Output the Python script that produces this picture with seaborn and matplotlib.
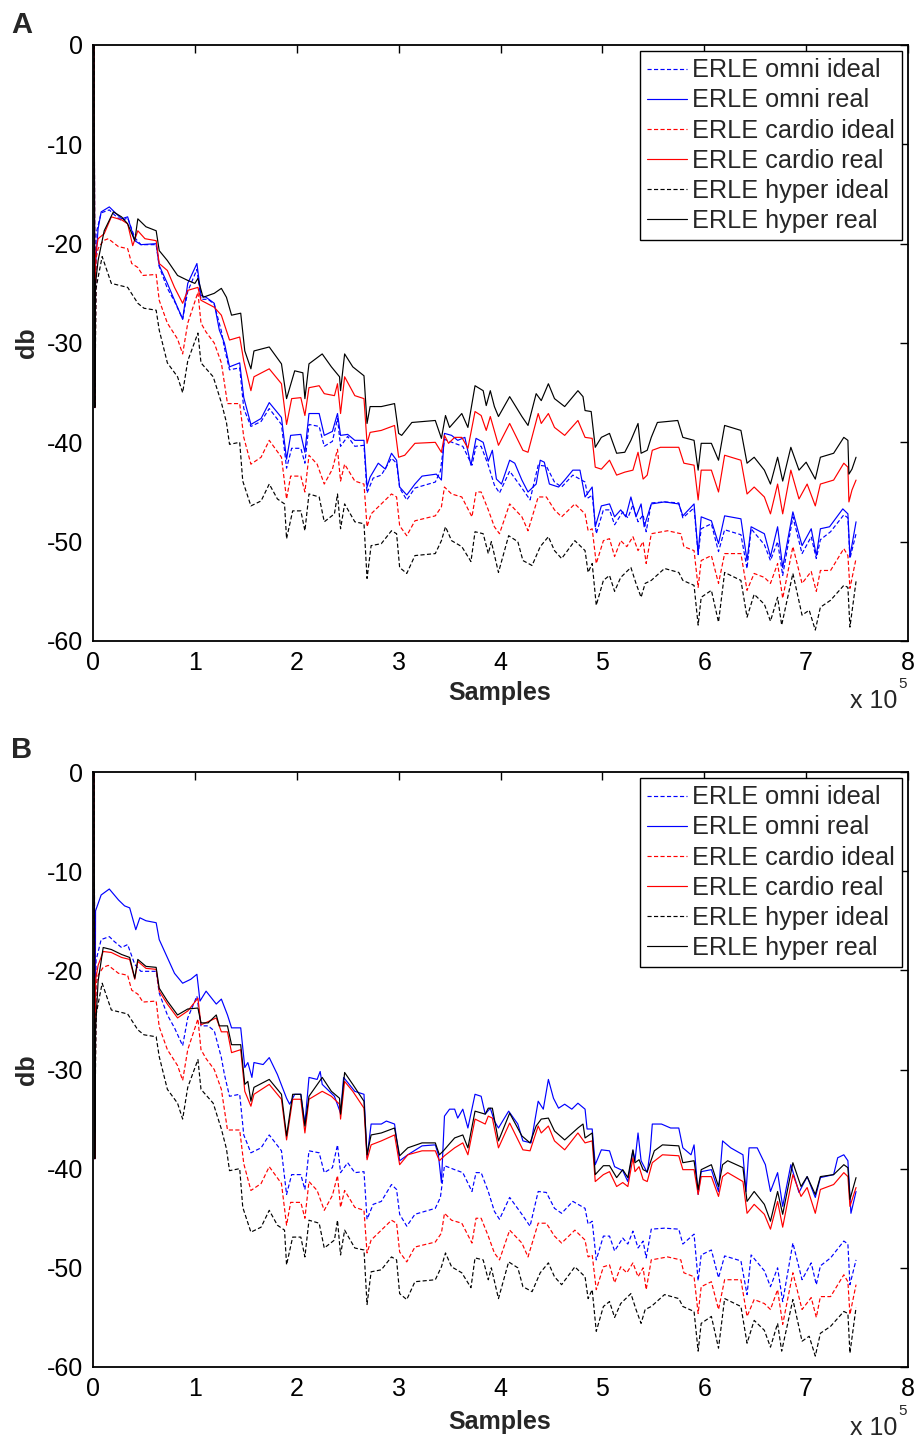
import numpy as np
import pandas as pd
import matplotlib
matplotlib.use("Agg")
import matplotlib.pyplot as plt
import seaborn as sns

# ---------------- data (x in units of 1e5 samples, value in db) ----------------
omni_ideal = [(0.012,0),(0.018,-36.5),(0.03,-19),(0.08,-16.9),(0.16,-16.6),(0.21,-17.1),(0.28,-17.7),(0.34,-17.4),(0.41,-19.4),(0.47,-20.1),(0.62,-20.1),(0.65,-22.3),(0.73,-24.5),(0.8,-25.8),(0.88,-27.6),(0.93,-24.8),(1.02,-22.6),(1.06,-25.6),(1.13,-25.6),(1.19,-26.1),(1.26,-28.8),(1.29,-30.5),(1.34,-32.7),(1.44,-32.5),(1.48,-36.6),(1.55,-38.4),(1.65,-37.9),(1.73,-36.6),(1.85,-38.2),(1.9,-42.6),(1.95,-40.6),(2.04,-40.6),(2.08,-42.1),(2.12,-38.2),(2.22,-38.4),(2.27,-40.4),(2.35,-39.9),(2.4,-37.6),(2.43,-40.4),(2.5,-39.4),(2.57,-40.4),(2.66,-40.3),(2.69,-45.1),(2.75,-43.6),(2.83,-43.3),(2.93,-41.6),(2.98,-42.1),(3.01,-44.6),(3.08,-45.8),(3.16,-44.6),(3.36,-44),(3.41,-42.9),(3.45,-39.7),(3.55,-40.1),(3.63,-40.4),(3.72,-42.3),(3.76,-40.4),(3.81,-40.4),(3.88,-42.3),(3.94,-44.3),(3.99,-45.1),(4.09,-42.9),(4.21,-44.6),(4.29,-45.8),(4.37,-42.3),(4.45,-42.4),(4.53,-44),(4.6,-44.5),(4.71,-43.3),(4.83,-44),(4.86,-45.6),(4.9,-45.3),(4.94,-49.2),(5.01,-46.8),(5.07,-46.8),(5.12,-48.3),(5.2,-47),(5.25,-47.6),(5.3,-46.3),(5.35,-48),(5.4,-47.3),(5.43,-49),(5.48,-46.1),(5.61,-46),(5.75,-46.1),(5.79,-47.6),(5.9,-46.6),(5.94,-51.3),(5.97,-48.7),(6.07,-48.2),(6.14,-51),(6.2,-48.8),(6.36,-49.3),(6.42,-52.7),(6.46,-48.7),(6.59,-50.3),(6.65,-51.9),(6.72,-50),(6.77,-53.4),(6.87,-47.5),(6.96,-51.2),(7.05,-49.5),(7.1,-51.7),(7.14,-49.8),(7.24,-49),(7.37,-47.3),(7.41,-47.6),(7.43,-51.7),(7.49,-49.2)]

cardio_ideal = [(0.012,0),(0.018,-36.5),(0.03,-21.5),(0.05,-20.5),(0.1,-19.7),(0.15,-19.5),(0.25,-20.3),(0.34,-20.5),(0.38,-22),(0.44,-22.4),(0.49,-23.2),(0.62,-23.1),(0.65,-25.7),(0.73,-28),(0.83,-29.6),(0.88,-31.1),(0.93,-28),(1.03,-24.9),(1.06,-28),(1.11,-28.9),(1.19,-30),(1.26,-32),(1.32,-36.1),(1.44,-36.1),(1.48,-39.5),(1.55,-42.2),(1.65,-41.5),(1.73,-39.8),(1.85,-41.5),(1.9,-45.7),(1.94,-43.4),(2.04,-43.4),(2.08,-45),(2.12,-41.3),(2.2,-42.2),(2.27,-44.2),(2.35,-42.7),(2.4,-40.7),(2.43,-43.9),(2.47,-42.2),(2.57,-43.9),(2.66,-44.2),(2.69,-48.5),(2.73,-47.2),(2.83,-46.2),(2.93,-45.2),(2.98,-45.5),(3.01,-48.4),(3.08,-49.4),(3.16,-47.9),(3.36,-47.4),(3.42,-46.5),(3.45,-44.5),(3.52,-45.2),(3.62,-45.5),(3.72,-47.5),(3.76,-45),(3.81,-45),(3.88,-46.8),(3.94,-48.5),(3.99,-49.2),(4.09,-46.2),(4.21,-47.5),(4.27,-48.9),(4.37,-45.5),(4.45,-45.5),(4.53,-46.8),(4.6,-47.5),(4.73,-46.2),(4.83,-47.2),(4.86,-48.9),(4.9,-48.7),(4.94,-52.2),(5.01,-49.9),(5.07,-49.7),(5.12,-51.5),(5.18,-49.9),(5.24,-50.5),(5.3,-49.5),(5.35,-50.9),(5.4,-50),(5.43,-52.2),(5.48,-49.2),(5.64,-48.9),(5.77,-49.2),(5.8,-50.5),(5.9,-50.9),(5.94,-54.6),(5.97,-51.9),(6.07,-51.4),(6.14,-54.2),(6.2,-51.2),(6.36,-51.2),(6.42,-54.9),(6.49,-53.2),(6.59,-53.6),(6.65,-54.2),(6.72,-52.2),(6.77,-55.7),(6.87,-50.5),(6.96,-54.2),(7.05,-53),(7.1,-55),(7.14,-52.9),(7.24,-52.9),(7.37,-50.7),(7.41,-51.4),(7.43,-54.7),(7.49,-51.7)]

hyper_ideal = [(0.012,0),(0.018,-36.5),(0.03,-24.5),(0.05,-23.4),(0.09,-21.3),(0.18,-24),(0.34,-24.4),(0.44,-26),(0.5,-26.5),(0.62,-26.7),(0.65,-28.7),(0.73,-32),(0.83,-33.4),(0.88,-35),(0.93,-31.8),(1.03,-29),(1.06,-32),(1.18,-33.4),(1.26,-36),(1.31,-38),(1.34,-40.2),(1.44,-40),(1.47,-43.9),(1.55,-46.4),(1.65,-45.9),(1.73,-44.2),(1.81,-45.7),(1.88,-46.2),(1.9,-49.7),(1.96,-46.9),(2.04,-46.9),(2.08,-48.9),(2.12,-45.2),(2.22,-45.5),(2.27,-48),(2.37,-47.2),(2.4,-45.2),(2.43,-48.7),(2.47,-46.2),(2.57,-48),(2.66,-48.2),(2.69,-53.7),(2.73,-50.4),(2.83,-50.2),(2.93,-48.9),(2.98,-49.2),(3.01,-52.6),(3.08,-53.2),(3.16,-51.4),(3.36,-51.2),(3.42,-49.9),(3.46,-48.5),(3.52,-49.9),(3.62,-50.5),(3.71,-52),(3.75,-49),(3.83,-49.2),(3.88,-51.2),(3.91,-50),(3.98,-53.1),(4.08,-49.4),(4.17,-50),(4.22,-51.9),(4.31,-52.4),(4.39,-50.5),(4.47,-49.5),(4.53,-50.9),(4.6,-51.7),(4.73,-49.9),(4.83,-50.9),(4.86,-53.1),(4.9,-52.2),(4.94,-56.4),(5.01,-53.9),(5.07,-53.4),(5.12,-55),(5.18,-53.6),(5.28,-52.6),(5.33,-54.2),(5.38,-55.6),(5.42,-54.2),(5.48,-53.9),(5.61,-52.7),(5.75,-53.1),(5.79,-53.9),(5.9,-54.4),(5.94,-58.4),(5.97,-55.6),(6.07,-54.9),(6.14,-58.1),(6.2,-53.1),(6.36,-53.9),(6.42,-57.6),(6.49,-55.3),(6.59,-56.3),(6.65,-58),(6.72,-55.6),(6.76,-58.4),(6.87,-53.2),(6.96,-57.4),(7.03,-56.9),(7.09,-58.9),(7.14,-56.6),(7.24,-55.9),(7.37,-54.4),(7.41,-54.6),(7.43,-58.6),(7.49,-54)]

omni_real_A = [(0.012,0),(0.018,-36.5),(0.025,-22),(0.05,-18.5),(0.08,-16.8),(0.16,-16.3),(0.21,-16.8),(0.28,-17.5),(0.34,-17.3),(0.41,-19.7),(0.47,-20.1),(0.62,-20),(0.65,-22.2),(0.73,-24),(0.8,-25.7),(0.88,-27.6),(0.93,-24),(1.02,-22),(1.06,-25.2),(1.11,-25.4),(1.19,-26),(1.24,-28.7),(1.29,-30),(1.34,-32.4),(1.44,-32),(1.48,-35.5),(1.55,-38.2),(1.65,-37.6),(1.73,-36),(1.85,-37.5),(1.9,-41.7),(1.94,-39.3),(2.04,-39.2),(2.08,-41),(2.12,-37.1),(2.22,-37.1),(2.27,-39.3),(2.35,-38.9),(2.4,-37.1),(2.43,-39.3),(2.5,-39.2),(2.57,-39.8),(2.66,-39.8),(2.69,-44.5),(2.72,-43.5),(2.8,-42.1),(2.87,-42.7),(2.93,-41.1),(2.98,-41.8),(3.01,-44.5),(3.08,-45.3),(3.16,-44.2),(3.23,-43.4),(3.37,-43.2),(3.42,-43.8),(3.45,-39.1),(3.52,-39.3),(3.58,-39.8),(3.65,-39.5),(3.71,-42.3),(3.76,-39.6),(3.83,-40),(3.88,-41.9),(3.92,-40.8),(3.96,-43.7),(4.01,-44.2),(4.09,-41.8),(4.14,-42.1),(4.21,-43.8),(4.27,-45),(4.35,-44.2),(4.39,-41.8),(4.43,-42),(4.48,-44.2),(4.57,-44.5),(4.63,-43.8),(4.71,-42.8),(4.78,-42.8),(4.83,-45.5),(4.9,-44.5),(4.93,-48.5),(4.99,-46.4),(5.07,-46.2),(5.12,-47.5),(5.18,-46.8),(5.23,-47.5),(5.28,-45.5),(5.33,-47.5),(5.38,-46.2),(5.41,-48.5),(5.48,-46.2),(5.61,-46),(5.75,-46.2),(5.79,-47.4),(5.9,-46.2),(5.94,-51.2),(5.97,-47.5),(6.07,-47.9),(6.14,-50.2),(6.2,-47.4),(6.36,-47.7),(6.42,-51.9),(6.46,-48.5),(6.59,-49.2),(6.65,-51.5),(6.72,-48.5),(6.77,-52.6),(6.87,-47),(6.96,-50.4),(7.05,-48.7),(7.1,-51.4),(7.14,-48.7),(7.23,-48.5),(7.36,-46.7),(7.41,-47.2),(7.43,-51.5),(7.49,-48)]

cardio_real_A = [(0.012,0),(0.018,-36.5),(0.025,-21),(0.05,-19.5),(0.11,-19),(0.18,-17.3),(0.28,-17.6),(0.34,-18),(0.39,-20.2),(0.44,-18.7),(0.51,-19.5),(0.62,-19.7),(0.65,-22),(0.73,-22.7),(0.8,-24.4),(0.88,-26),(0.93,-24.7),(1.03,-24.4),(1.06,-25.7),(1.19,-26.4),(1.26,-27.2),(1.34,-29.7),(1.44,-29.4),(1.48,-31.8),(1.55,-34.8),(1.58,-33.4),(1.73,-32.6),(1.85,-34.1),(1.9,-38.2),(1.95,-35.6),(2.04,-35.5),(2.08,-37.3),(2.12,-34.5),(2.22,-34.3),(2.27,-35.1),(2.37,-35.3),(2.4,-34.1),(2.43,-37.1),(2.47,-33.4),(2.57,-35.3),(2.66,-35.6),(2.69,-40.1),(2.72,-39),(2.83,-38.8),(2.96,-38.3),(3.0,-41.5),(3.06,-41.3),(3.16,-40.1),(3.36,-40),(3.42,-41),(3.45,-39.3),(3.49,-40.1),(3.55,-39.5),(3.62,-39.5),(3.68,-40.6),(3.75,-36.9),(3.81,-37.3),(3.86,-38.8),(3.9,-37.4),(3.98,-40.3),(4.09,-38.1),(4.22,-40.8),(4.27,-41),(4.37,-37.1),(4.4,-38.1),(4.47,-37.1),(4.53,-38.5),(4.63,-39.3),(4.76,-37.8),(4.83,-39.5),(4.9,-39.6),(4.93,-42.5),(4.99,-42.7),(5.07,-41.8),(5.14,-43.3),(5.22,-43),(5.3,-42.8),(5.35,-41),(5.4,-43.7),(5.44,-43.3),(5.49,-40.8),(5.57,-40.5),(5.75,-40.5),(5.8,-42.1),(5.9,-42.3),(5.94,-45.8),(5.97,-42.8),(6.07,-42.8),(6.14,-45),(6.2,-41.3),(6.36,-41.8),(6.42,-45.2),(6.49,-44.5),(6.59,-45.5),(6.65,-47.2),(6.72,-44.2),(6.77,-47.2),(6.85,-42.8),(6.93,-45.7),(7.01,-44.2),(7.09,-46.4),(7.14,-44.2),(7.27,-43.8),(7.37,-42.1),(7.41,-42.5),(7.42,-46),(7.45,-44.8),(7.49,-43.8)]

hyper_real_A = [(0.012,0),(0.018,-36.5),(0.025,-24),(0.05,-21.7),(0.11,-18.7),(0.2,-16.8),(0.28,-17.3),(0.34,-18),(0.41,-19.7),(0.44,-17.5),(0.52,-18.3),(0.62,-18.7),(0.65,-20.7),(0.73,-21.7),(0.83,-23.2),(0.93,-23.7),(1.0,-24),(1.03,-23.5),(1.08,-25.4),(1.19,-25),(1.26,-24.5),(1.31,-25.4),(1.36,-27.2),(1.45,-27),(1.49,-30.8),(1.55,-32.6),(1.58,-30.8),(1.73,-30.4),(1.85,-32.1),(1.9,-35.6),(1.98,-32.8),(2.06,-33),(2.08,-35.6),(2.12,-32.1),(2.25,-31.1),(2.34,-32.4),(2.42,-33.4),(2.43,-34.8),(2.47,-31.1),(2.55,-32.4),(2.66,-33.3),(2.69,-38.1),(2.72,-36.4),(2.83,-36.4),(2.96,-36.1),(3.0,-39.1),(3.03,-39.3),(3.13,-38),(3.36,-37.8),(3.42,-39.6),(3.46,-37.3),(3.5,-38.5),(3.62,-37.1),(3.68,-38.5),(3.75,-34.3),(3.83,-34.8),(3.86,-36.3),(3.9,-34.8),(3.94,-36.4),(3.98,-37.4),(4.09,-35.4),(4.21,-37.4),(4.27,-38.3),(4.35,-35.1),(4.4,-35.8),(4.47,-34.1),(4.53,-35.6),(4.63,-36.4),(4.76,-34.8),(4.81,-35.4),(4.83,-36.8),(4.89,-36.9),(4.93,-40.5),(4.99,-39.5),(5.07,-39.1),(5.14,-41.1),(5.22,-41),(5.28,-39.8),(5.35,-38.1),(5.38,-41.1),(5.44,-40.8),(5.48,-39.5),(5.54,-38),(5.74,-37.8),(5.79,-39.5),(5.9,-39.8),(5.94,-42.8),(5.97,-40.1),(6.07,-40.1),(6.14,-41.8),(6.2,-38.3),(6.36,-38.8),(6.42,-42.1),(6.49,-41.5),(6.59,-42.8),(6.65,-44.2),(6.72,-41.5),(6.77,-43.9),(6.85,-40.5),(6.93,-42.8),(7.0,-42),(7.09,-43.7),(7.14,-41.5),(7.27,-41.1),(7.37,-39.5),(7.41,-39.8),(7.42,-43.2),(7.45,-42.7),(7.49,-41.5)]

omni_real_B = [(0.012,0),(0.018,-39),(0.025,-14),(0.08,-12.4),(0.16,-11.8),(0.25,-12.9),(0.31,-13.5),(0.36,-13.7),(0.42,-15.9),(0.46,-14.7),(0.52,-15),(0.62,-15.2),(0.65,-16.9),(0.73,-18.7),(0.8,-20.3),(0.88,-21.3),(0.96,-20.9),(1.02,-20.4),(1.05,-23.1),(1.11,-22.1),(1.21,-23.4),(1.26,-22.9),(1.32,-24.5),(1.36,-25.8),(1.45,-25.8),(1.49,-29.8),(1.52,-29.3),(1.56,-30.8),(1.58,-29.3),(1.67,-29.5),(1.73,-28.8),(1.81,-30.5),(1.9,-32.9),(1.93,-33.5),(1.98,-32.5),(2.04,-32.5),(2.08,-35.5),(2.12,-30.8),(2.2,-31),(2.23,-30.2),(2.25,-31.5),(2.37,-32.7),(2.43,-34.4),(2.46,-30.8),(2.57,-32.2),(2.66,-32.5),(2.69,-38.9),(2.73,-35.5),(2.83,-35.5),(2.88,-35.2),(2.96,-35.5),(3.01,-39.2),(3.09,-38.6),(3.23,-37.7),(3.36,-37.6),(3.39,-38.6),(3.42,-41.4),(3.45,-34.7),(3.5,-34),(3.55,-34),(3.58,-34.9),(3.63,-34),(3.68,-35.9),(3.75,-32.5),(3.81,-32.7),(3.85,-34.5),(3.9,-33.9),(3.94,-35.2),(3.98,-35.9),(4.08,-34.2),(4.17,-35.5),(4.22,-37.2),(4.3,-37.4),(4.37,-33.2),(4.42,-34),(4.47,-31),(4.52,-32.9),(4.57,-33.9),(4.63,-33.5),(4.7,-34),(4.76,-33.4),(4.83,-34),(4.85,-36),(4.9,-36),(4.93,-39.6),(4.99,-38.1),(5.07,-38.2),(5.12,-39.8),(5.2,-40.2),(5.25,-41.3),(5.3,-38.2),(5.32,-39.2),(5.35,-36.4),(5.38,-39.2),(5.44,-40.4),(5.47,-38.2),(5.49,-35.5),(5.58,-35.5),(5.67,-35.9),(5.75,-35.9),(5.79,-37.9),(5.87,-38.6),(5.9,-37.6),(5.94,-42.6),(5.97,-40.3),(6.07,-40.1),(6.14,-42.3),(6.18,-37.2),(6.26,-37.9),(6.38,-38.6),(6.41,-42.3),(6.44,-37.9),(6.52,-37.9),(6.6,-39.6),(6.65,-42.3),(6.72,-40.4),(6.77,-43.8),(6.85,-39.6),(6.93,-42.4),(7.01,-40.8),(7.09,-42.9),(7.14,-40.9),(7.27,-40.6),(7.31,-38.9),(7.37,-38.6),(7.41,-39.2),(7.44,-44.5),(7.49,-42.3)]

cardio_real_B = [(0.012,0),(0.018,-39),(0.025,-21),(0.05,-19.5),(0.1,-18.1),(0.18,-18.2),(0.28,-18.7),(0.36,-18.9),(0.41,-20.9),(0.44,-19.1),(0.52,-19.8),(0.62,-19.9),(0.65,-22.1),(0.73,-23.4),(0.83,-24.8),(0.93,-24.1),(1.03,-22.8),(1.06,-25.5),(1.21,-24.8),(1.26,-26.2),(1.32,-26.2),(1.36,-28.3),(1.45,-28),(1.49,-32.2),(1.55,-33.7),(1.58,-32.5),(1.73,-31.5),(1.85,-33),(1.9,-37.1),(1.96,-33),(2.04,-33),(2.08,-36.4),(2.12,-33),(2.25,-32.2),(2.34,-32.7),(2.42,-33.5),(2.43,-35),(2.47,-31.2),(2.55,-32.2),(2.66,-33.9),(2.69,-39.1),(2.73,-37.6),(2.83,-37.2),(2.96,-36.6),(3.01,-39.6),(3.09,-38.6),(3.23,-38.2),(3.36,-38.2),(3.4,-39.2),(3.45,-38.7),(3.55,-37.9),(3.63,-37.4),(3.68,-38.6),(3.75,-35),(3.85,-35.5),(3.88,-34.7),(3.92,-34.9),(3.98,-37.9),(4.09,-35.4),(4.22,-38.1),(4.29,-38.2),(4.37,-35.7),(4.4,-36.4),(4.47,-35.7),(4.53,-37.2),(4.63,-38.1),(4.76,-36.4),(4.83,-37.4),(4.9,-37.2),(4.93,-41.3),(5.01,-40.6),(5.07,-40.3),(5.14,-41.8),(5.2,-41.4),(5.25,-41.8),(5.3,-38.9),(5.32,-40.3),(5.36,-39.8),(5.4,-41.1),(5.44,-41.3),(5.49,-39.4),(5.59,-38.6),(5.75,-38.7),(5.79,-40.1),(5.9,-40.1),(5.94,-42.6),(5.97,-40.8),(6.07,-40.8),(6.14,-42.8),(6.18,-40.8),(6.23,-40.4),(6.38,-41.3),(6.42,-44.5),(6.49,-43.6),(6.59,-44.6),(6.65,-46.1),(6.72,-43.3),(6.77,-45.9),(6.87,-40.6),(6.95,-42.8),(7.01,-41.9),(7.09,-44.5),(7.14,-42.1),(7.27,-41.6),(7.37,-40.4),(7.41,-40.8),(7.43,-43.8),(7.49,-41.9)]

hyper_real_B = [(0.012,0),(0.018,-39),(0.025,-26),(0.05,-21.1),(0.1,-17.7),(0.18,-17.9),(0.28,-18.4),(0.36,-18.7),(0.41,-20.8),(0.44,-18.9),(0.52,-19.6),(0.62,-19.7),(0.65,-21.8),(0.73,-23.1),(0.83,-24.5),(0.93,-23.9),(1.03,-23.8),(1.06,-25.3),(1.13,-25.3),(1.21,-24.5),(1.24,-25.6),(1.32,-25.6),(1.36,-27.5),(1.45,-27.5),(1.49,-31.5),(1.52,-31.2),(1.55,-33.2),(1.58,-31.8),(1.73,-31),(1.85,-32.5),(1.9,-36.7),(1.96,-32.5),(2.04,-32.5),(2.08,-35.7),(2.12,-32.7),(2.25,-30.8),(2.34,-32.2),(2.42,-32.9),(2.43,-34.5),(2.47,-30.3),(2.55,-31.5),(2.66,-33.2),(2.69,-38.6),(2.73,-36.6),(2.83,-36.4),(2.96,-35.9),(3.01,-38.7),(3.09,-37.9),(3.23,-37.4),(3.36,-37.4),(3.4,-38.6),(3.44,-38.2),(3.49,-37.6),(3.55,-36.9),(3.63,-36.6),(3.68,-37.9),(3.75,-34.2),(3.85,-34.5),(3.88,-33.9),(3.92,-33.9),(3.98,-37.2),(4.09,-34.4),(4.21,-36.7),(4.29,-37.4),(4.35,-35.7),(4.4,-35),(4.47,-34.9),(4.53,-36.2),(4.63,-37.1),(4.76,-35.9),(4.81,-35.5),(4.83,-36.9),(4.9,-36.4),(4.93,-40.6),(5.01,-39.7),(5.07,-39.7),(5.14,-40.9),(5.2,-40.1),(5.25,-40.9),(5.3,-38.1),(5.32,-39.4),(5.36,-39.1),(5.4,-40.1),(5.44,-40.3),(5.51,-38.2),(5.59,-37.6),(5.75,-37.7),(5.79,-39.4),(5.9,-39.2),(5.94,-42.1),(5.97,-40.1),(6.07,-39.6),(6.14,-41.8),(6.18,-39.6),(6.23,-39.2),(6.38,-39.9),(6.42,-43.3),(6.49,-42.3),(6.59,-43.6),(6.65,-45.3),(6.72,-42.3),(6.77,-44.6),(6.87,-39.4),(6.95,-41.8),(7.01,-40.8),(7.09,-42.6),(7.14,-40.8),(7.27,-40.6),(7.37,-39.6),(7.41,-39.9),(7.43,-43.1),(7.49,-40.9)]

labels = ["ERLE omni ideal", "ERLE omni real", "ERLE cardio ideal",
          "ERLE cardio real", "ERLE hyper ideal", "ERLE hyper real"]
x_ticks = [0, 1, 2, 3, 4, 5, 6, 7, 8]
y_ticks = [0, -10, -20, -30, -40, -50, -60]

# ---------------- style ----------------
sns.set_style("white")
plt.rcParams['font.family'] = ['Liberation Sans', 'DejaVu Sans']
plt.rcParams['axes.unicode_minus'] = False

W, H = 920, 1440
fig = plt.figure(figsize=(W / 100, H / 100), dpi=100)

colors = ['blue', 'blue', 'red', 'red', 'black', 'black']
styles = [(0, (3.5, 2)), '-', (0, (3.5, 2)), '-', (0, (3.5, 2)), '-']


def frame(series):
    return pd.DataFrame(series, columns=['x', 'db'])


def panel(rect, series_list, letter, letter_y, label_y, x10_y):
    ax = fig.add_axes(rect)
    for s, lab, c, ls in zip(series_list, labels, colors, styles):
        df = frame(s)
        sns.lineplot(data=df, x='x', y='db', ax=ax, color=c, linestyle=ls,
                     linewidth=0.85, label=lab, estimator=None, sort=False)
    ax.set_xlim(0, 8)
    ax.set_ylim(-60, 0)
    ax.set_xticks(x_ticks)
    ax.set_xticklabels([str(t) for t in x_ticks])
    ax.set_yticks(y_ticks)
    ax.set_yticklabels([str(t) for t in y_ticks])
    ax.tick_params(direction='in', length=6, width=1, top=True, right=True,
                   labelsize=18, pad=7, colors='black')
    for sp in ax.spines.values():
        sp.set_visible(True)
        sp.set_linewidth(1.3)
        sp.set_color('black')
    ax.set_xlabel('')
    ax.set_ylabel('')
    leg = ax.legend(loc='upper right', fontsize=18.2, frameon=True, fancybox=False,
                    framealpha=1, edgecolor='black', handlelength=1.55,
                    handletextpad=0.2, labelspacing=0.24, borderpad=0.28,
                    borderaxespad=0.25)
    leg.get_frame().set_linewidth(1.0)
    # texts
    fig.text(22 / W, 1 - letter_y / H, letter, fontsize=21, fontweight='bold',
             ha='center', va='center')
    cy = (rect[1] + rect[3] / 2)
    fig.text(27 / W, cy, 'db', fontsize=18, fontweight='bold', rotation=90,
             ha='center', va='center')
    fig.text(500 / W, 1 - label_y / H, 'Samples', fontsize=18, fontweight='bold',
             ha='center', va='center')
    fig.text(874 / W, 1 - x10_y / H, 'x 10', fontsize=18, ha='center', va='center')
    fig.text(903 / W, 1 - (x10_y - 17) / H, '5', fontsize=11, ha='center', va='center')
    return ax


axA = panel([93 / W, 1 - 641 / H, 815 / W, 596 / H],
            [omni_ideal, omni_real_A, cardio_ideal, cardio_real_A, hyper_ideal, hyper_real_A],
            'A', 25, 693, 701)
axB = panel([93 / W, 1 - 1367 / H, 815 / W, 595 / H],
            [omni_ideal, omni_real_B, cardio_ideal, cardio_real_B, hyper_ideal, hyper_real_B],
            'B', 750, 1422, 1428)

fig.savefig('out.png', dpi=100)
